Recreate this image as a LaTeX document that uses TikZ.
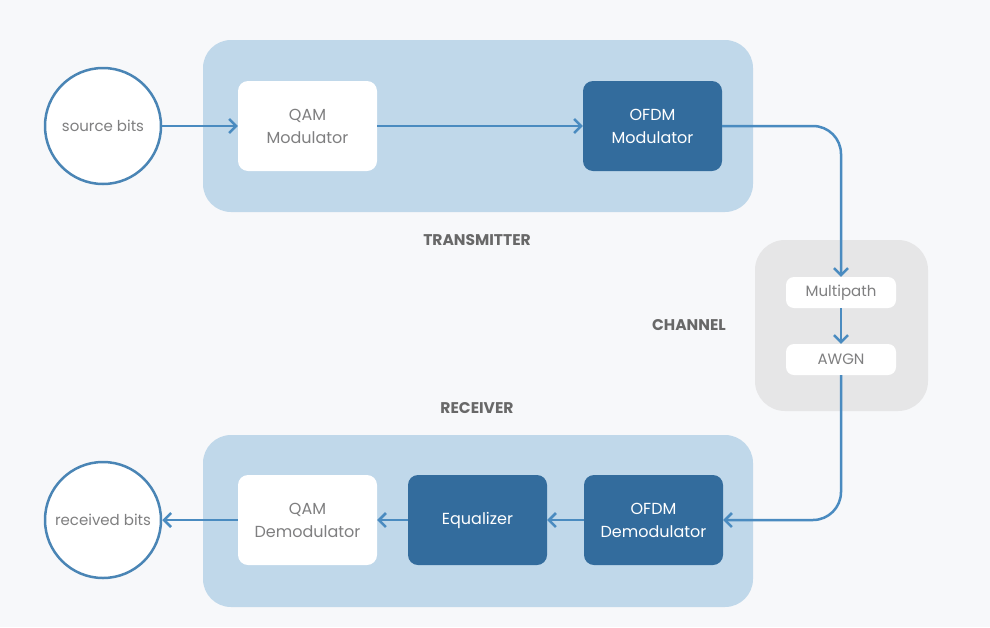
\documentclass[tikz,border=0pt]{standalone}
\usepackage{fontspec}
\setmainfont{Poppins}
\usetikzlibrary{arrows.meta}
\definecolor{bgc}{HTML}{F7F8FA}
\definecolor{grp}{HTML}{C0D8EA}
\definecolor{dkb}{HTML}{336C9D}
\definecolor{lnb}{HTML}{4A8BC0}
\definecolor{crc}{HTML}{4A85B5}
\definecolor{chg}{HTML}{E6E6E7}
\definecolor{txg}{HTML}{7F7F80}
\definecolor{lbg}{HTML}{686868}
\tikzset{
  grpbox/.style={rectangle, rounded corners=28pt, fill=grp, minimum width=550pt, minimum height=172pt, inner sep=0pt},
  whitebox/.style={rectangle, rounded corners=10pt, fill=white, minimum width=139pt, minimum height=90pt, inner sep=0pt, align=center, text=txg, font=\fontsize{16}{23}\selectfont},
  darkbox/.style={whitebox, fill=dkb, text=white},
  smallbox/.style={rectangle, rounded corners=8pt, fill=white, minimum width=110pt, minimum height=31pt, inner sep=0pt, text=txg, font=\fontsize{15}{18}\selectfont},
  bitcircle/.style={circle, draw=crc, line width=2.5pt, fill=white, minimum size=116pt, inner sep=0pt, text=txg, font=\fontsize{15}{18}\selectfont},
  grplabel/.style={text=lbg, font=\bfseries\fontsize{15.5}{18}\selectfont},
  conn/.style={draw=lnb, line width=2.5pt, -{Straight Barb[length=7pt,width=14pt,line width=2.5pt]}},
}
\begin{document}
\begin{tikzpicture}[x=1pt,y=-1pt]
\path[fill=bgc] (0,0) rectangle (990,627);
\useasboundingbox (0,0) rectangle (990,627);
% group backgrounds
\node[grpbox] (tx) at (478,126) {};
\node[grpbox] (rx) at (478,521) {};
\node[rectangle, rounded corners=30pt, fill=chg, minimum width=173pt, minimum height=171pt, inner sep=0pt] (ch) at (841.5,325.5) {};
% labels
\node[grplabel] (txl) at (477,240) {TRANSMITTER};
\node[grplabel] (chl) at (689,325) {CHANNEL};
\node[grplabel] (rxl) at (477,408) {RECEIVER};
% blocks
\node[bitcircle] (src) at (103,126) {source bits};
\node[whitebox] (qam) at (307.5,126) {QAM\\Modulator};
\node[darkbox] (ofdm) at (652.5,126) {OFDM\\Modulator};
\node[smallbox] (mp) at (841,292.5) {Multipath};
\node[smallbox] (awgn) at (841,359.5) {AWGN};
\node[darkbox] (ofdmd) at (653.5,520) {OFDM\\Demodulator};
\node[darkbox] (eq) at (477.5,520) {Equalizer};
\node[whitebox] (qamd) at (307.5,520) {QAM\\Demodulator};
\node[bitcircle] (rcv) at (103,520) {received bits};
% connectors
\draw[conn] (src) -- (qam);
\draw[conn] (qam) -- (ofdm);
\draw[conn, rounded corners=28pt] (ofdm.east) -| (mp.north);
\draw[conn] (mp) -- (awgn);
\draw[conn, rounded corners=28pt] (awgn.south) |- (ofdmd.east);
\draw[conn] (ofdmd) -- (eq);
\draw[conn] (eq) -- (qamd);
\draw[conn] (qamd) -- (rcv);
\end{tikzpicture}
\end{document}
